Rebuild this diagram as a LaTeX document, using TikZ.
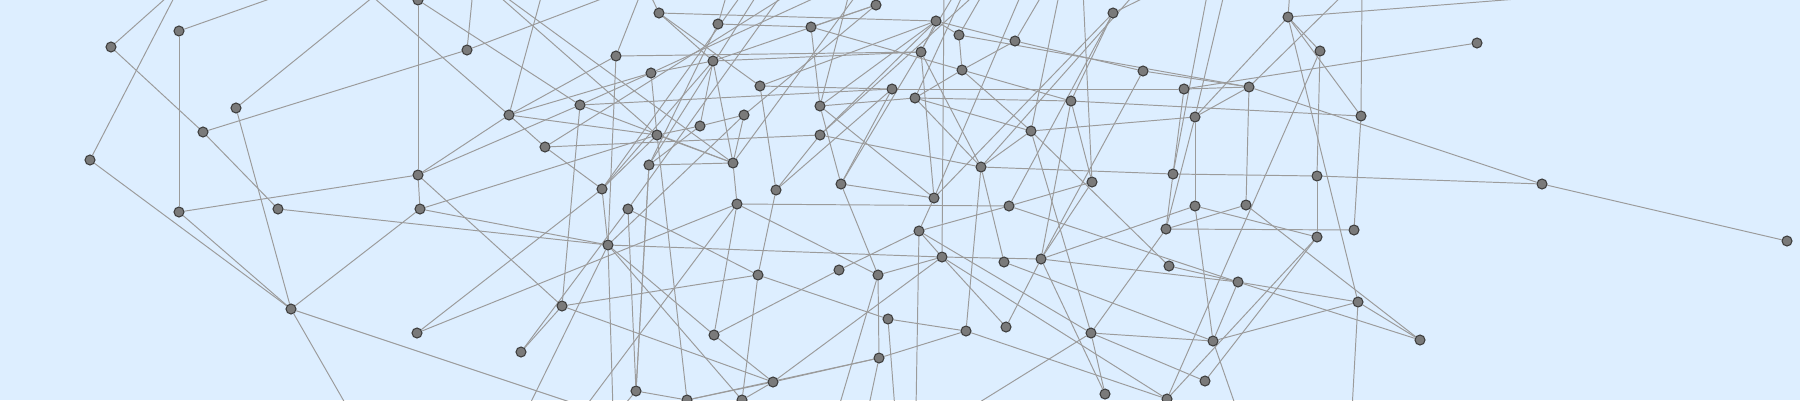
\documentclass[tikz,border=0pt]{standalone}
\pgfdeclarelayer{bg}
\pgfsetlayers{bg,main}
\definecolor{bgc}{RGB}{221,238,255}
\definecolor{edgec}{RGB}{155,155,155}
\definecolor{nodefill}{RGB}{122,122,122}
\definecolor{nodedraw}{RGB}{62,62,62}
\tikzset{
  nd/.style={circle,fill=nodefill,draw=nodedraw,line width=0.6pt,minimum size=0.2cm,inner sep=0pt},
  edge/.style={draw=edgec,line width=0.55pt}
}
\begin{document}
\begin{tikzpicture}[x=0.02cm,y=-0.02cm]
\useasboundingbox (0,0) rectangle (1800,400);
\begin{pgfonlayer}{bg}
\fill[bgc] (0,0) rectangle (1800,400);
\end{pgfonlayer}
% left
\node[nd] (L1) at (111,47) {};
\node[nd] (L2) at (179,31) {};
\node[nd] (L3) at (236,108) {};
\node[nd] (L4) at (203,132) {};
\node[nd] (L5) at (90,160) {};
\node[nd] (L6) at (418,0) {};
\node[nd] (L7) at (418,175) {};
\node[nd] (L8) at (179,212) {};
\node[nd] (L9) at (278,209) {};
\node[nd] (L10) at (420,209) {};
\node[nd] (L11) at (291,309) {};
\node[nd] (L12) at (417,333) {};
% middle top
\node[nd] (M1) at (467,50) {};
\node[nd] (M2) at (509,115) {};
\node[nd] (M3) at (545,147) {};
\node[nd] (M4) at (580,105) {};
\node[nd] (M5) at (602,189) {};
\node[nd] (M6) at (616,56) {};
\node[nd] (M7) at (651,73) {};
\node[nd] (M8) at (659,13) {};
\node[nd] (M9) at (657,135) {};
\node[nd] (M10) at (649,165) {};
\node[nd] (M11) at (700,126) {};
\node[nd] (M12) at (713,61) {};
\node[nd] (M13) at (718,24) {};
\node[nd] (M14) at (733,163) {};
\node[nd] (M15) at (744,115) {};
\node[nd] (M16) at (760,86) {};
\node[nd] (M17) at (776,190) {};
\node[nd] (M18) at (811,27) {};
\node[nd] (M19) at (820,106) {};
\node[nd] (M20) at (820,135) {};
\node[nd] (M21) at (841,184) {};
\node[nd] (M22) at (876,5) {};
\node[nd] (M23) at (892,89) {};
\node[nd] (M24) at (915,98) {};
\node[nd] (M25) at (921,52) {};
\node[nd] (M26) at (936,21) {};
\node[nd] (M27) at (959,35) {};
\node[nd] (M28) at (962,70) {};
\node[nd] (M29) at (934,198) {};
\node[nd] (M30) at (981,167) {};
\node[nd] (M31) at (1015,41) {};
\node[nd] (M32) at (1031,131) {};
% right top
\node[nd] (R1) at (1071,101) {};
\node[nd] (R2) at (1092,182) {};
\node[nd] (R3) at (1113,13) {};
\node[nd] (R4) at (1143,71) {};
\node[nd] (R5) at (1173,174) {};
\node[nd] (R6) at (1184,89) {};
\node[nd] (R7) at (1195,117) {};
\node[nd] (R8) at (1249,87) {};
\node[nd] (R9) at (1288,17) {};
\node[nd] (R10) at (1317,176) {};
\node[nd] (R11) at (1320,51) {};
\node[nd] (R12) at (1361,116) {};
\node[nd] (R13) at (1477,43) {};
\node[nd] (R14) at (1542,184) {};
\node[nd] (R15) at (1787,241) {};
% bottom
\node[nd] (B1) at (628,209) {};
\node[nd] (B2) at (608,245) {};
\node[nd] (B3) at (562,306) {};
\node[nd] (B4) at (521,352) {};
\node[nd] (B5) at (636,391) {};
\node[nd] (B6) at (687,400) {};
\node[nd] (B7) at (742,400) {};
\node[nd] (B8) at (737,204) {};
\node[nd] (B9) at (714,335) {};
\node[nd] (B10) at (758,275) {};
\node[nd] (B11) at (773,382) {};
\node[nd] (B12) at (839,270) {};
\node[nd] (B13) at (878,275) {};
\node[nd] (B14) at (888,319) {};
\node[nd] (B15) at (879,358) {};
\node[nd] (B16) at (919,231) {};
\node[nd] (B17) at (942,257) {};
\node[nd] (B18) at (1004,262) {};
\node[nd] (B19) at (1009,206) {};
\node[nd] (B20) at (1041,259) {};
\node[nd] (B21) at (966,331) {};
\node[nd] (B22) at (1006,327) {};
\node[nd] (B23) at (1091,333) {};
\node[nd] (B24) at (1105,394) {};
\node[nd] (B25) at (1167,399) {};
\node[nd] (B26) at (1166,229) {};
\node[nd] (B27) at (1169,266) {};
\node[nd] (B28) at (1195,206) {};
\node[nd] (B29) at (1205,381) {};
\node[nd] (B30) at (1213,341) {};
\node[nd] (B31) at (1238,282) {};
\node[nd] (B32) at (1246,205) {};
\node[nd] (B33) at (1317,237) {};
\node[nd] (B34) at (1354,230) {};
\node[nd] (B35) at (1358,302) {};
\node[nd] (B36) at (1420,340) {};
% off-canvas ends
\coordinate (o1) at (175,-10);
\coordinate (o2) at (178,-10);
\coordinate (o3) at (295,-10);
\coordinate (o4) at (373,-3);
\coordinate (o5) at (349,410);
\coordinate (o6) at (594,410);
\coordinate (o7) at (473,-10);
\coordinate (o8) at (625,-10);
\coordinate (o9) at (543,-10);
\coordinate (o10) at (642,-10);
\coordinate (o11) at (648,-10);
\coordinate (o13) at (728,-10);
\coordinate (o14) at (492,-10);
\coordinate (o15) at (496,-10);
\coordinate (o16) at (1530,-2);
\coordinate (o17) at (1362,-10);
\coordinate (o18) at (613,410);
\coordinate (o19) at (916,410);
\coordinate (o20) at (985,-10);
\coordinate (o21) at (1045,-10);
\coordinate (o22) at (1160,-10);
\coordinate (o23) at (967,410);
\coordinate (o24) at (1237,410);
\coordinate (o25) at (1352,410);
\coordinate (o26) at (850,-10);
\coordinate (o27) at (965,-10);
\coordinate (o29) at (1225,-10);
\coordinate (o30) at (1060,-10);
\coordinate (o33) at (895,410);
\coordinate (o40) at (760,-10);
\coordinate (o41) at (745,-10);
\coordinate (o42) at (785,-10);
\coordinate (o44) at (944,-10);
\coordinate (o45) at (1208,-10);
\coordinate (o46) at (1290,-10);
\coordinate (o47) at (1083,-10);
\coordinate (o48) at (1138,-10);
\coordinate (o49) at (1348,-10);
\coordinate (o50) at (620,410);
\coordinate (o51) at (527,410);
\coordinate (o52) at (583,410);
\coordinate (o53) at (838,410);
\coordinate (o54) at (868,410);
\coordinate (o55) at (795,-10);
\coordinate (o56) at (832,-10);
\coordinate (o57) at (860,-10);
\coordinate (o58) at (957,-10);
\coordinate (o59) at (980,-10);
\coordinate (o60) at (1023,-10);
\begin{pgfonlayer}{bg}
\foreach \a/\b in {L1/o1, L1/L4, L5/o2, L5/L11, L2/o3, L2/L8, L3/o4, L3/L11, L4/M1, L4/L9,
  L6/L7, L6/M4, L7/L8, L7/L10, L7/B3, L7/M2, L7/M4, L8/L11, L9/B2, L10/B2, L10/M9, L10/L11,
  L11/o5, L11/o6, L12/M5, o4/M2, L12/B8,
  M1/o7, M1/o8, M2/o9, M2/M3, M2/M6, M2/M7, M2/M9, M3/M20, M3/M5, M4/B3, M4/M23, M4/M7, M4/M14,
  M5/B2, M5/M9, M5/M12, M6/o10, M6/M25, M6/B2, M7/M12, M7/M9, M8/o11, M8/M12, M8/M16,
  M9/M11, M9/B6, M9/M14, M10/B5, M10/M11, M10/M13, M10/M14, M11/M15, M11/M12, M12/M25,
  M12/M14, M12/M22, M13/o13, M13/M18, M14/B8, M14/M15, M9/o14, M14/o15, M15/M22,
  M10/o40, M5/o41, B1/o42, M8/M26, M26/M19, M23/M17, M32/M24, M30/M24, M28/R1, M27/R8,
  M3/o55, M7/o56, M14/o57, M21/o58, M20/o59, M29/o60,
  M16/M23, M16/M26, M16/M17, M18/M22, M18/M19, M18/M28, M19/M29, M19/M24, M20/M30, M20/M17,
  M20/M26, M21/M19, M21/M23, M21/M29, M25/M26, M25/M29, M25/M30, M26/M31, M26/M27, M27/M28,
  M27/o20, M28/M24, M28/M32, M31/M28, M31/R4, M31/o21, M30/R5, M30/M32, M32/R7, M23/R6,
  M24/R1, M17/B10, M21/B13, M29/B16,
  R3/R1, R3/o22, R3/B19, R3/M29, R9/o16, R9/R11, R9/R12, R9/R7, R11/R10, R11/B25, R4/R8,
  R4/B20, R6/R13, R6/R8, R6/R5, R7/R8, R7/B26, R1/R12, R1/R2, R5/R10, R10/R14, R8/R14,
  R14/R15, R12/o17, R12/B34, R2/B19, R5/B26,
  R5/o45, R9/o46, R2/o47, M30/o48, R8/o49, B17/o44,
  B21/M30, B20/R1, B23/M32, B20/R2, R7/B28, R8/B32, R10/B33, R9/B35,
  B4/B3, B4/B1, B3/B10, B3/B11, B2/M15, B2/B17, B2/B7, B2/B9, B2/o18, B1/B5, B1/B10, B5/M10,
  B5/B6, B6/B11, B6/B15, B7/B10, B7/B11, B9/B12, B9/B11, B9/B8, B8/B19, B8/B13, B12/B16, B13/B15,
  B13/B17, B10/B14, B14/B21, B15/B21, B15/B11, B17/B11, B17/B20, B17/B22, B17/B25, B16/B17,
  B16/B23, B16/o19, B16/B19, B20/B22, B20/B28, B20/B31, B20/B24, B19/B31, B28/B33, B28/B30,
  B32/B26, B32/B36, B26/B34, B26/B23, B18/B30, B27/B31, B31/B30, B31/B35, B31/B36, B21/B25,
  B23/B30, B23/B29, B23/B24, B23/o23, B30/B35, B30/o24, B29/B33, B25/B33, B35/B36,
  B35/o25, M19/o26, M24/o27, R7/o29, M32/o30, B18/M30, B27/M32, B14/o33,
  B5/o50, B2/o51, B8/o52, B13/o53, B15/o54}
  \draw[edge] (\a) -- (\b);
\end{pgfonlayer}
\end{tikzpicture}
\end{document}
